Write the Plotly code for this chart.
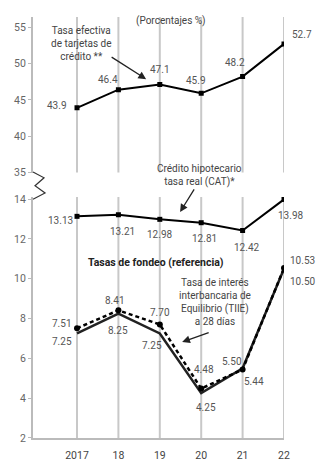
import plotly.graph_objs as go
from plotly.subplots import make_subplots

# datos (porcentajes)
years = [2017, 2018, 2019, 2020, 2021, 2022]
year_labels = ["2017", "18", "19", "20", "21", "22"]

tarjetas = [43.9, 46.4, 47.1, 45.9, 48.2, 52.7]
tarjetas_txt = ["43.9", "46.4", "47.1", "45.9", "48.2", "52.7"]

hipotecario = [13.13, 13.21, 12.98, 12.81, 12.42, 13.98]
hipotecario_txt = ["13.13", "13.21", "12.98", "12.81", "12.42", "13.98"]

fondeo = [7.25, 8.25, 7.25, 4.25, 5.50, 10.50]
fondeo_txt = ["7.25", "8.25", "7.25", "4.25", "5.50", "10.50"]

tiie = [7.51, 8.41, 7.70, 4.48, 5.44, 10.53]
tiie_txt = ["7.51", "8.41", "7.70", "4.48", "5.44", "10.53"]

top_ticks = [35, 40, 45, 50, 55]
bottom_ticks = [2, 4, 6, 8, 10, 12, 14]

# desplazamiento de las etiquetas (px)
off_tarjetas = [(-20, 2), (-10, 10), (0, 15), (-5, 13), (-8, 14), (18, 9)]
off_hipotecario = [(-17, -4), (4, -17), (0, -15), (3, -16), (4, -17), (6, -16)]
off_fondeo = [(-15, -8), (0, -17), (-8, -12), (5, -14), (-11, 7), (18, -13)]
off_tiie = [(-15, 5), (-3, 10), (0, 12), (3, 19), (11, -12), (18, 8)]

FONT = "Roboto, sans-serif"
GRID = "#c8c8c8"
LBL = "#555555"

fig = make_subplots(rows=2, cols=1, shared_xaxes=True, vertical_spacing=0.06)

fig.add_trace(go.Scatter(
    x=years, y=tarjetas, mode="lines+markers",
    line=dict(color="black", width=2),
    marker=dict(symbol="square", size=5, color="black"),
), row=1, col=1)

fig.add_trace(go.Scatter(
    x=years, y=hipotecario, mode="lines+markers",
    line=dict(color="black", width=2),
    marker=dict(symbol="square", size=5, color="black"),
), row=2, col=1)

fig.add_trace(go.Scatter(
    x=years, y=fondeo, mode="lines",
    line=dict(color="#222222", width=2.5),
), row=2, col=1)

fig.add_trace(go.Scatter(
    x=years, y=tiie, mode="lines+markers",
    line=dict(color="black", width=2.5, dash="4px,3px"),
    marker=dict(symbol="circle", size=6, color="black"),
), row=2, col=1)

# etiquetas de valores
series = [
    (tarjetas, tarjetas_txt, off_tarjetas, "x", "y"),
    (hipotecario, hipotecario_txt, off_hipotecario, "x2", "y2"),
    (fondeo, fondeo_txt, off_fondeo, "x2", "y2"),
    (tiie, tiie_txt, off_tiie, "x2", "y2"),
]
for vals, txts, offs, xr_, yr_ in series:
    for yr, v, t, (dx, dy) in zip(years, vals, txts, offs):
        fig.add_annotation(x=yr, y=v, text=t, xref=xr_, yref=yr_,
                           xshift=dx, yshift=dy, showarrow=False,
                           font=dict(family=FONT, size=10, color=LBL))

# rejilla vertical
for yr in years:
    fig.add_vline(x=yr, row="all", col=1, line=dict(color=GRID, width=2), layer="below")

# ejes
xr = [2015.937, 2022]
fig.update_xaxes(range=xr, tickvals=years, ticktext=year_labels,
                 showgrid=False, zeroline=False, automargin=False,
                 ticks="outside", ticklen=6, tickcolor="rgba(0,0,0,0)",
                 tickfont=dict(size=10.5, color="#444"))
fig.update_xaxes(showticklabels=False, row=1, col=1)
fig.update_xaxes(showline=True, linecolor="#bbbbbb", linewidth=2, row=2, col=1)

fig.update_yaxes(range=[35, 56.4], tickvals=top_ticks, domain=[0.6306, 1],
                 row=1, col=1)
fig.update_yaxes(range=[2, 14.1], tickvals=bottom_ticks, domain=[0, 0.5724],
                 row=2, col=1)
fig.update_yaxes(showgrid=False, zeroline=False, showline=True, automargin=False,
                 linecolor="#bbbbbb", linewidth=2, ticks="outside",
                 ticklen=3, tickcolor="#bbbbbb",
                 tickfont=dict(size=10.5, color="#666"))

# corte del eje
fig.add_shape(type="path", xref="paper", yref="paper",
              path="M 0,0.632 L 0.044,0.618 L 0.008,0.599 L 0.048,0.582 L 0,0.567",
              line=dict(color="#333333", width=1.2))
# filete superior
fig.add_shape(type="line", xref="paper", yref="paper",
              x0=-0.112, x1=1.127, y0=1.037, y1=1.037,
              line=dict(color="#dddddd", width=1.5))

ann_font = dict(family=FONT, size=10, color="#444")
fig.add_annotation(text="(Porcentajes %)", xref="paper", yref="paper",
                   x=0.55, y=1.0095, showarrow=False, font=ann_font)
fig.add_annotation(text="Tasa efectiva<br>de tarjetas de<br>crédito **", xref="x", yref="y",
                   x=2017.10, y=52.8, showarrow=False, font=ann_font)
fig.add_annotation(text="", xref="x", yref="y", x=2018.67, y=47.85,
                   ax=-36, ay=-23, showarrow=True, arrowhead=2, arrowsize=1.2,
                   arrowwidth=1.3, arrowcolor="#222")
fig.add_annotation(text="Crédito hipotecario<br>tasa real (CAT)*", xref="x2", yref="paper",
                   x=2019.97, y=0.6247, showarrow=False, font=ann_font)
fig.add_annotation(text="", xref="x2", yref="y2", x=2019.49, y=13.35,
                   ax=15, ay=-24, showarrow=True, arrowhead=2, arrowsize=1.2,
                   arrowwidth=1.3, arrowcolor="#222")
fig.add_annotation(text="<b>Tasas de fondeo (referencia)</b>", xref="x2", yref="y2",
                   x=2018.91, y=10.79, showarrow=False,
                   font=dict(family=FONT, size=10.5, color="#222"))
fig.add_annotation(text="Tasa de interés<br>interbancaria de<br>Equilibrio (TIIE)<br>a 28 días",
                   xref="x2", yref="y2", x=2020.33, y=8.83, showarrow=False, font=ann_font)
fig.add_annotation(text="", xref="x2", yref="y2", x=2019.54, y=6.82,
                   ax=28, ay=-10, showarrow=True, arrowhead=2, arrowsize=1.2,
                   arrowwidth=1.3, arrowcolor="#222")

# la página añade 8 px de margen, por eso la figura es algo menor
fig.update_layout(
    width=316, height=453,
    margin=dict(l=25, r=40, t=9, b=23),
    showlegend=False,
    template="none",
    plot_bgcolor="white", paper_bgcolor="white",
    font=dict(family=FONT, size=10.5, color="#444"),
)

fig.write_html("out.html")
